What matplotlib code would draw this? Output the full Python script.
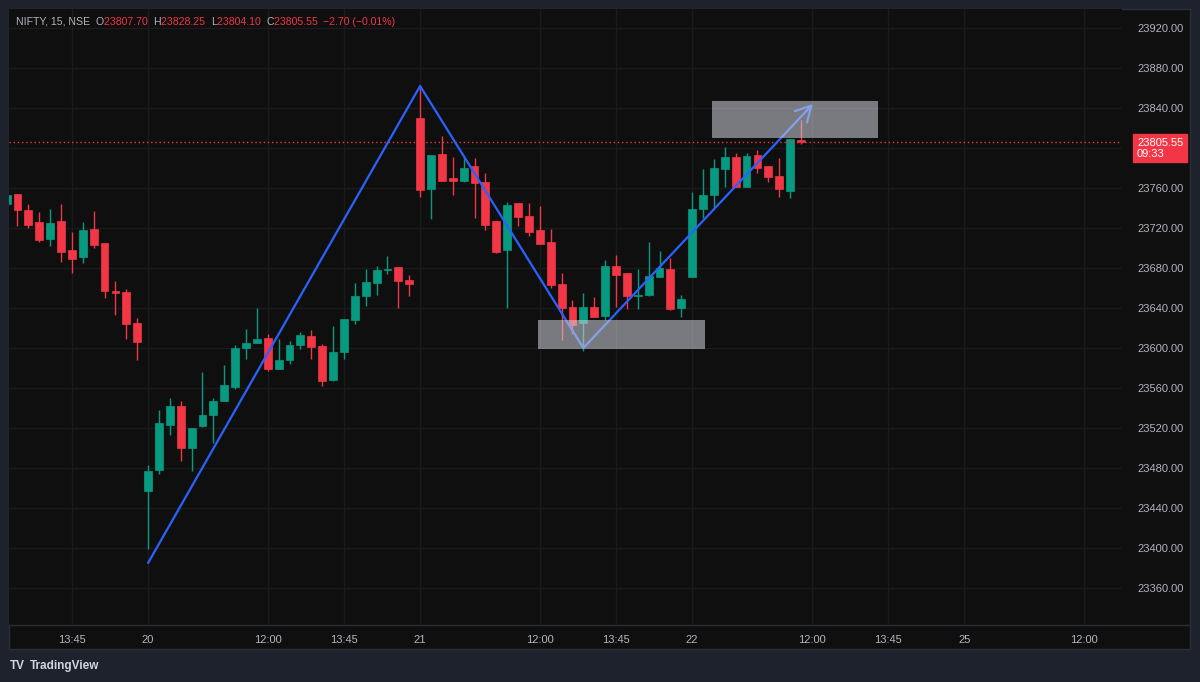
import numpy as np
import matplotlib.pyplot as plt
from matplotlib.patches import Rectangle
from matplotlib.lines import Line2D
import matplotlib.transforms as mtransforms

plt.rcParams['font.family'] = ['Liberation Sans', 'DejaVu Sans']

# NIFTY 15 min bars, index 0 = 20th 09:15 (25 bars per session)
bar_idx = list(range(-13, 61))
opens = [23744, 23754, 23738, 23726, 23709, 23727, 23698, 23691, 23719, 23705, 23657, 23656, 23625,
         23457, 23478, 23523, 23542, 23500, 23522, 23533, 23547, 23561, 23600, 23605, 23610, 23579,
         23588, 23603, 23612, 23602, 23568, 23596, 23628, 23652, 23665, 23678, 23681, 23668,
         23830, 23759, 23794, 23770, 23767, 23782, 23766, 23727, 23698, 23745, 23732, 23718, 23706,
         23664, 23641, 23625, 23641, 23632, 23682, 23675, 23652, 23653, 23671, 23679, 23640,
         23671, 23739, 23753, 23779, 23791, 23761, 23793, 23782, 23772, 23757, 23807.70]
highs = [23755, 23754, 23744, 23736, 23739, 23744, 23716, 23726, 23737, 23705, 23667, 23659, 23630,
         23483, 23538, 23550, 23547, 23520, 23576, 23550, 23583, 23603, 23619, 23640, 23614, 23609,
         23607, 23616, 23618, 23604, 23622, 23629, 23665, 23679, 23682, 23692, 23681, 23673,
         23862, 23793, 23812, 23791, 23791, 23790, 23775, 23727, 23746, 23745, 23745, 23742, 23719,
         23675, 23648, 23655, 23651, 23688, 23693, 23675, 23679, 23706, 23697, 23690, 23653,
         23756, 23779, 23789, 23801, 23795, 23795, 23798, 23782, 23790, 23809, 23828.25]
lows = [23740, 23722, 23720, 23706, 23702, 23686, 23675, 23685, 23700, 23650, 23633, 23609, 23588,
        23399, 23474, 23513, 23487, 23477, 23521, 23505, 23547, 23559, 23589, 23605, 23577, 23579,
        23584, 23599, 23589, 23562, 23567, 23589, 23624, 23642, 23653, 23674, 23640, 23652,
        23751, 23729, 23767, 23753, 23766, 23730, 23718, 23695, 23640, 23722, 23712, 23704, 23660,
        23608, 23614, 23597, 23631, 23628, 23641, 23639, 23639, 23652, 23671, 23638, 23631,
        23671, 23730, 23740, 23761, 23761, 23761, 23775, 23766, 23751, 23750, 23804.10]
closes = [23753, 23738, 23723, 23708, 23725, 23696, 23689, 23718, 23703, 23657, 23655, 23624, 23606,
          23477, 23525, 23542, 23500, 23520, 23533, 23547, 23563, 23600, 23605, 23609, 23579, 23588,
          23603, 23613, 23601, 23567, 23596, 23629, 23652, 23666, 23678, 23679, 23667, 23664,
          23758, 23793, 23767, 23767, 23780, 23765, 23723, 23696, 23743, 23731, 23716, 23704, 23663,
          23640, 23623, 23641, 23631, 23682, 23673, 23652, 23653, 23672, 23680, 23639, 23649,
          23739, 23753, 23780, 23791, 23761, 23792, 23780, 23771, 23759, 23809, 23805.55]

tick_pos = [-7, 0, 11, 18, 25, 36, 43, 50, 61, 68, 75, 86]
tick_lbl = ['13:45', '20', '12:00', '13:45', '21', '12:00', '13:45', '22', '12:00', '13:45', '25', '12:00']
price_ticks = list(range(23360, 23921, 40))

# drawings on the chart
zig_x = [0, 25, 40, 61.1]
zig_y = [23385, 23862, 23600, 23844]
zones = [(35.85, 51.2, 23599, 23628), (51.84, 67.1, 23810, 23847)]
last_price = 23805.55

GREEN = '#089981'
RED = '#f23645'
TXT = '#b2b5be'

W, H = 1200, 682
fig = plt.figure(figsize=(12, 6.82), dpi=100, facecolor='#1e222d')
fig.patches.append(Rectangle((9 / W, 33 / H), 1181 / W, 640 / H, transform=fig.transFigure,
                             fc='#0f0f0f', ec='#2a2e39', lw=1, zorder=-5))

ax = fig.add_axes([9 / W, 57 / H, 1113 / W, 616 / H])
ax.set_facecolor('#0f0f0f')
ax.set_xlim(-12.78, 89.5)
ax.set_ylim(23323, 23939)

ax.set_yticks(price_ticks)
# the 23800 label sits under the live price tag
ax.set_yticklabels(['' if p == 23800 else '%.2f' % p for p in price_ticks])
ax.set_xticks(tick_pos)
ax.set_xticklabels(tick_lbl)
ax.grid(color='#1b1b1b', lw=1)
ax.set_axisbelow(True)
ax.yaxis.tick_right()
ax.tick_params(axis='y', length=0, pad=11, labelcolor=TXT, labelsize=8)
ax.tick_params(axis='x', length=0, pad=7, labelcolor=TXT, labelsize=8)
for s in ax.spines.values():
    s.set_visible(False)
fig.lines.append(Line2D([9 / W, 1190 / W], [57 / H, 57 / H], transform=fig.transFigure,
                        color='#2a2e39', lw=1))

# candles
o = np.array(opens)
c = np.array(closes)
cols = [GREEN if cc >= oo else RED for oo, cc in zip(o, c)]
ax.vlines(bar_idx, lows, highs, colors=cols, lw=1, zorder=2)
body = np.maximum(np.abs(c - o), 1.2)
ax.bar(bar_idx, body, bottom=np.minimum(o, c), width=0.72, color=cols, edgecolor=cols,
       lw=0.5, zorder=3)

# current price line
ax.axhline(last_price, color=RED, ls=(0, (1, 2)), lw=1, zorder=3)

# zig-zag drawing
ax.plot(zig_x[:3], zig_y[:3], color='#2962ff', lw=1.6, zorder=4, solid_capstyle='round')
ax.annotate('', xy=(zig_x[3], zig_y[3]), xytext=(zig_x[2], zig_y[2]),
            arrowprops=dict(arrowstyle='->,head_length=0.55,head_width=0.3', color='#2962ff',
                            lw=1.6, shrinkA=0, shrinkB=0, mutation_scale=20), zorder=4)

for x0, x1, y0, y1 in zones:
    ax.add_patch(Rectangle((x0, y0), x1 - x0, y1 - y0, fc='#d1d4dc', alpha=0.55, ec='none', zorder=5))

# price tag on the axis (first line level with the price)
tr = mtransforms.blended_transform_factory(ax.transAxes, ax.transData)
tr = mtransforms.offset_copy(tr, fig=fig, y=-6, units='dots')
ax.text(1.0135, last_price, '23805.55\n09:33', transform=tr, ha='left', va='center',
        color='white', fontsize=8, linespacing=1.1, clip_on=False, zorder=6,
        bbox=dict(boxstyle='square,pad=0.32', fc=RED, ec=RED))

# header, pieces laid out one after another
hy = (H - 22) / H
parts = [('NIFTY, 15, NSE  ', TXT), ('O', TXT), ('23807.70  ', RED), ('H', TXT),
         ('23828.25  ', RED), ('L', TXT), ('23804.10  ', RED), ('C', TXT),
         ('23805.55  ', RED), ('\u22122.70 (\u22120.01%)', RED)]
renderer = fig.canvas.get_renderer()
px = 16
for s, col in parts:
    t = fig.text(px / W, hy, s, color=col, fontsize=7.6, va='center', ha='left')
    px += t.get_window_extent(renderer).width

# footer logo
fig.text(10 / W, (H - 666) / H, 'TV', color='#d1d4dc', fontsize=8.5, fontweight='bold', va='center')
fig.text(30 / W, (H - 666) / H, 'TradingView', color='#d1d4dc', fontsize=8.5, fontweight='bold',
         va='center')

fig.savefig('out.png', dpi=100, facecolor=fig.get_facecolor())
